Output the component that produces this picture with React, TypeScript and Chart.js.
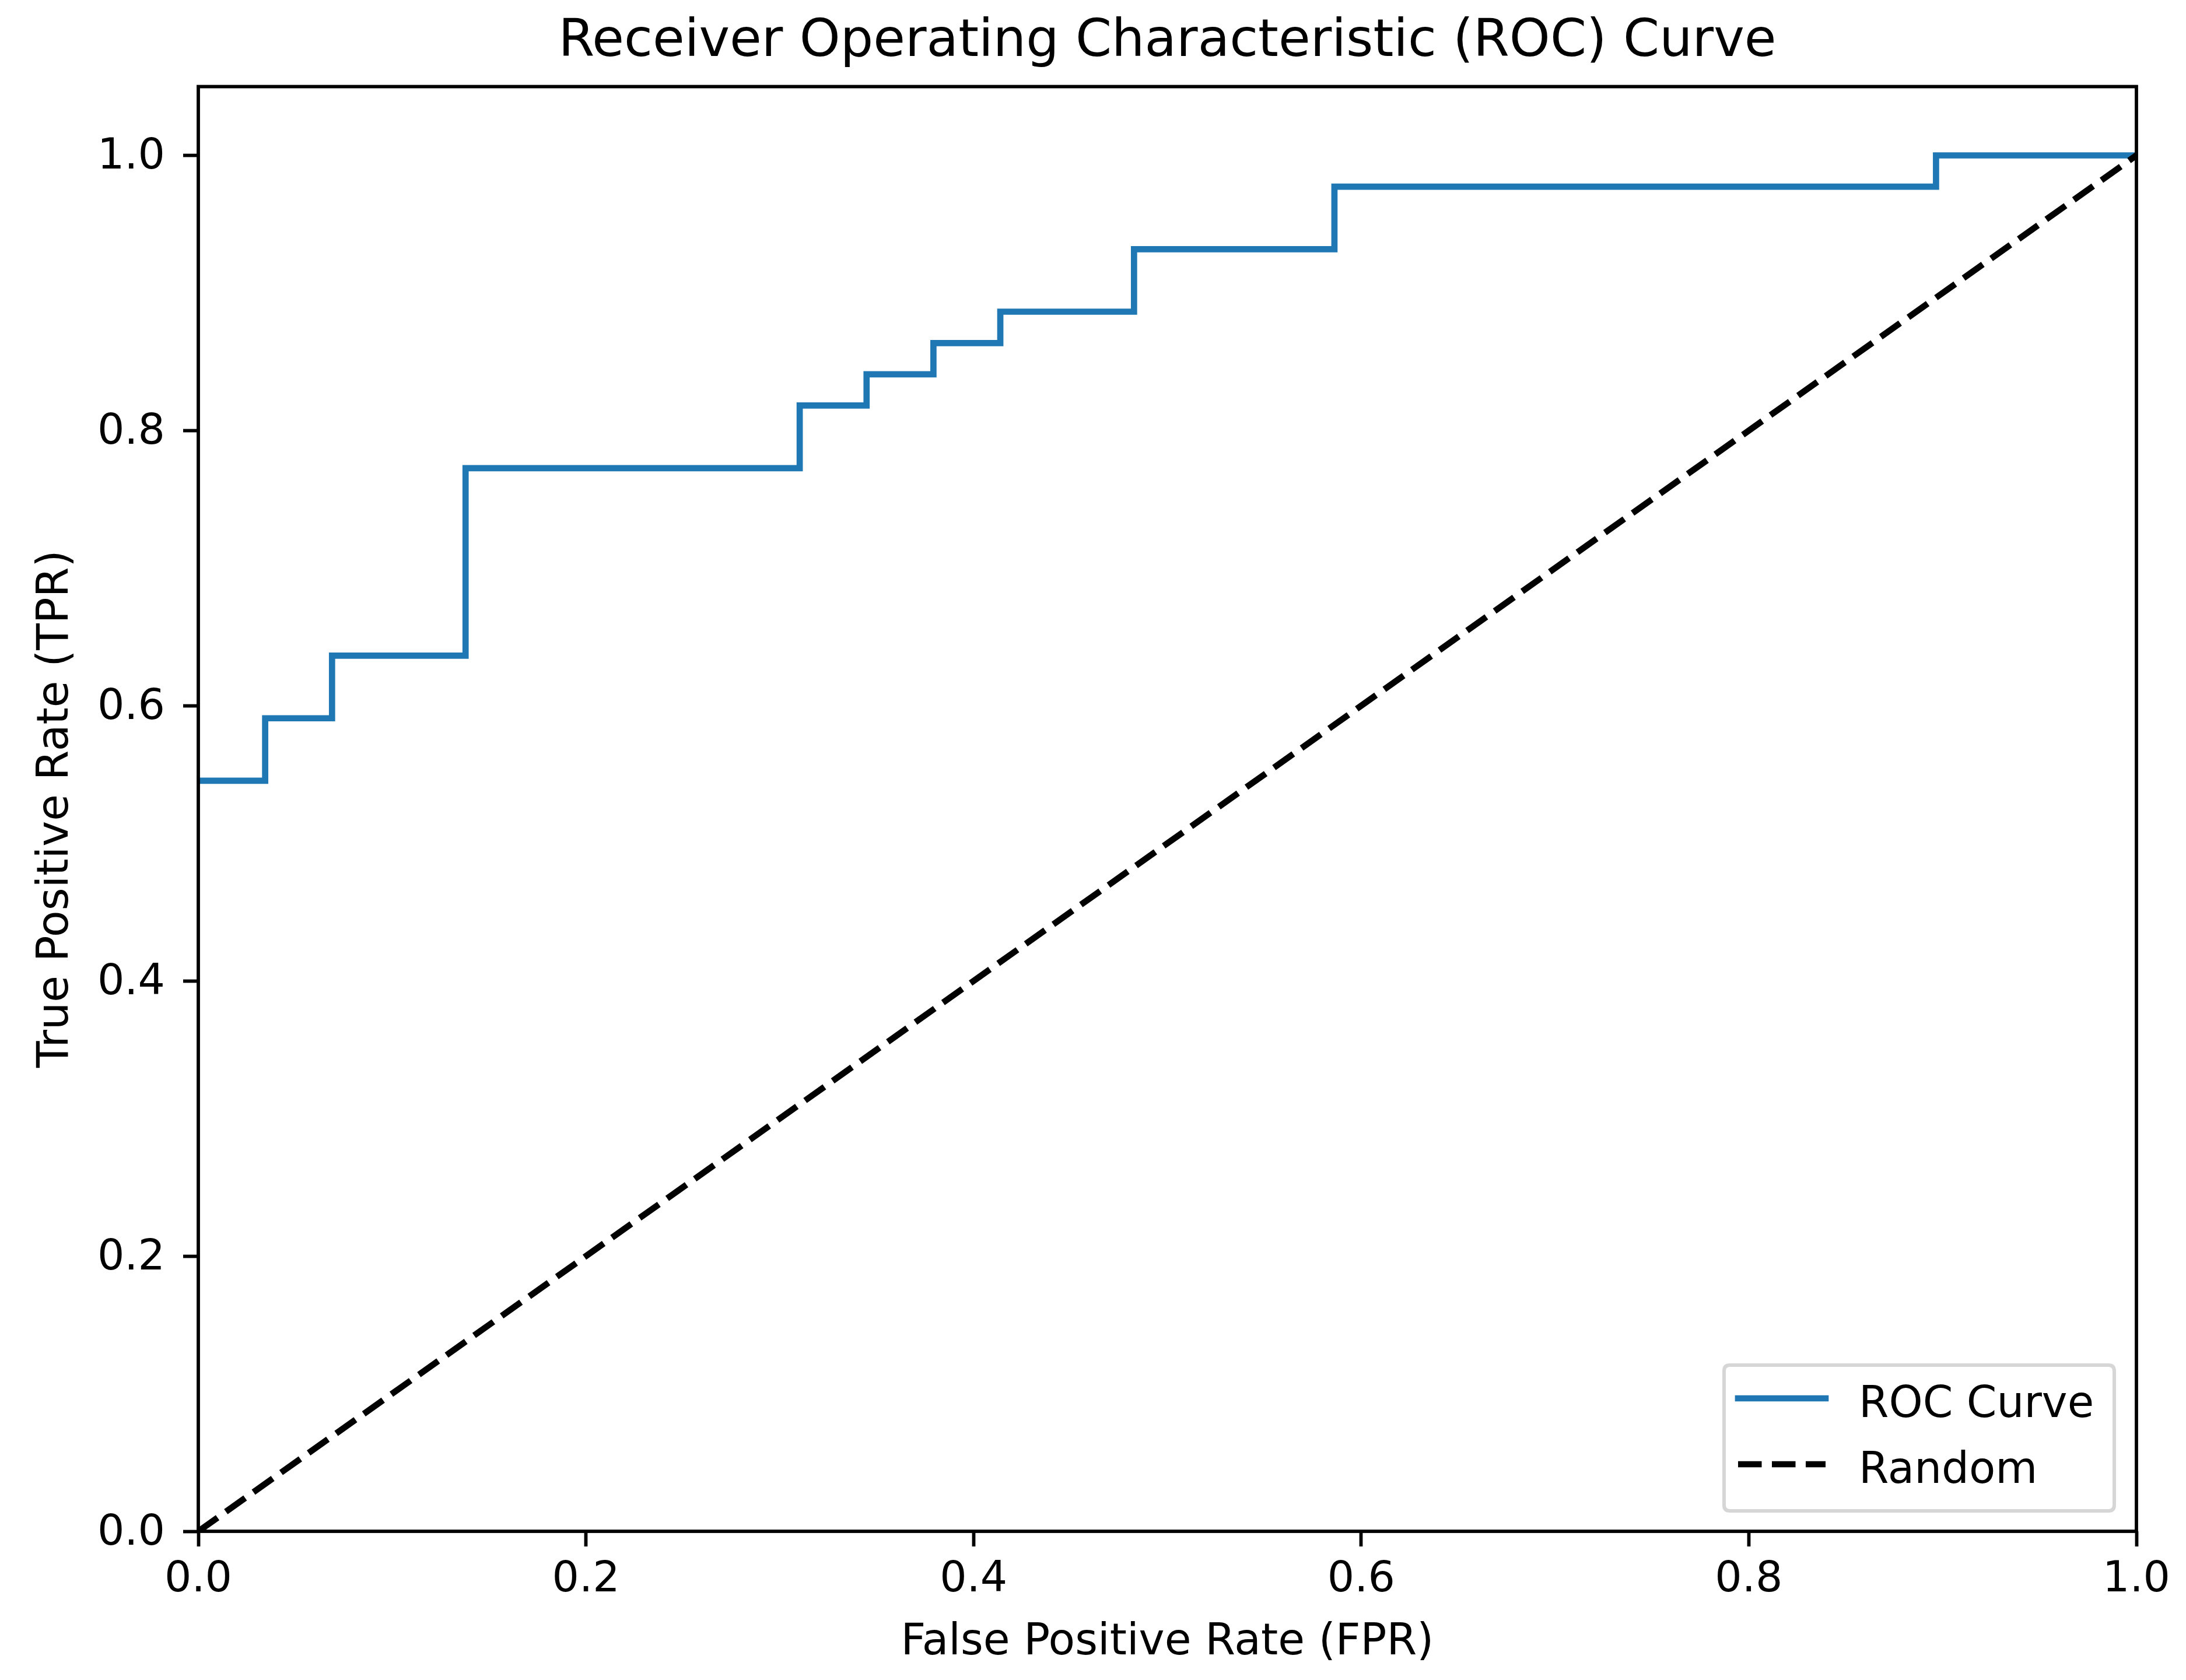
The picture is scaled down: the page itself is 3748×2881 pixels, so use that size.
import React, { useEffect, useRef } from 'react';
import { Chart, registerables } from 'chart.js';

Chart.register(...registerables);

// ---- data ----
const fpr = [0, 0.0345, 0.0345, 0.069, 0.069, 0.1379, 0.1379, 0.3103, 0.3103, 0.3448, 0.3448, 0.3793, 0.3793, 0.4138, 0.4138, 0.4828, 0.4828, 0.5862, 0.5862, 0.8966, 0.8966, 1.0];
const tpr = [0.5455, 0.5455, 0.5909, 0.5909, 0.6364, 0.6364, 0.7727, 0.7727, 0.8182, 0.8182, 0.8409, 0.8409, 0.8636, 0.8636, 0.8864, 0.8864, 0.9318, 0.9318, 0.9773, 0.9773, 1.0, 1.0];
const randomX = [0, 1];
const randomY = [0, 1];
const xTicks = [0, 0.2, 0.4, 0.6, 0.8, 1.0];
const yTicks = [0, 0.2, 0.4, 0.6, 0.8, 1.0];
const seriesLabels = ['ROC Curve', 'Random'];
const titleText = 'Receiver Operating Characteristic (ROC) Curve';
const xLabel = 'False Positive Rate (FPR)';
const yLabel = 'True Positive Rate (TPR)';

const W = 3748;
const H = 2881;
const FONT = 'DejaVu Sans';

const framePlugin = {
  id: 'mplFrame',
  afterDatasetsDraw(chart: any) {
    const { ctx, chartArea: a } = chart;
    ctx.save();
    // spines
    ctx.strokeStyle = '#000';
    ctx.lineWidth = 5.8;
    ctx.lineJoin = 'miter';
    ctx.setLineDash([]);
    ctx.strokeRect(a.left, a.top, a.right - a.left, a.bottom - a.top);

    // legend
    const bw = 669;
    const bh = 250;
    const x0 = a.right - 38 - bw;
    const y0 = a.bottom - 35 - bh;
    const r = 10;
    ctx.beginPath();
    ctx.moveTo(x0 + r, y0);
    ctx.lineTo(x0 + bw - r, y0);
    ctx.quadraticCurveTo(x0 + bw, y0, x0 + bw, y0 + r);
    ctx.lineTo(x0 + bw, y0 + bh - r);
    ctx.quadraticCurveTo(x0 + bw, y0 + bh, x0 + bw - r, y0 + bh);
    ctx.lineTo(x0 + r, y0 + bh);
    ctx.quadraticCurveTo(x0, y0 + bh, x0, y0 + bh - r);
    ctx.lineTo(x0, y0 + r);
    ctx.quadraticCurveTo(x0, y0, x0 + r, y0);
    ctx.closePath();
    ctx.fillStyle = 'rgba(255,255,255,0.8)';
    ctx.fill();
    ctx.strokeStyle = 'rgba(204,204,204,0.8)';
    ctx.lineWidth = 6;
    ctx.stroke();

    chart.data.datasets.forEach((ds: any, i: number) => {
      const ly = y0 + 57 + i * 113;
      ctx.beginPath();
      ctx.setLineDash(ds.borderDash || []);
      ctx.lineCap = ds.borderDash ? 'butt' : 'square';
      ctx.strokeStyle = ds.borderColor;
      ctx.lineWidth = ds.borderWidth;
      ctx.moveTo(x0 + 24, ly);
      ctx.lineTo(x0 + 174, ly);
      ctx.stroke();
      ctx.setLineDash([]);
      ctx.font = `74px "${FONT}"`;
      ctx.fillStyle = '#000';
      ctx.textAlign = 'left';
      ctx.textBaseline = 'alphabetic';
      ctx.fillText(ds.label, x0 + 231, ly + 32);
    });
    ctx.restore();
  },
};

export default function App() {
  const ref = useRef<HTMLCanvasElement | null>(null);

  useEffect(() => {
    if (!ref.current) return;
    const chart = new Chart(ref.current, {
      type: 'line',
      data: {
        datasets: [
          {
            label: seriesLabels[0],
            data: fpr.map((x, i) => ({ x, y: tpr[i] })),
            borderColor: '#1f77b4',
            backgroundColor: '#1f77b4',
            borderWidth: 10.7,
            pointRadius: 0,
            tension: 0,
            fill: false,
            borderJoinStyle: 'miter',
            borderCapStyle: 'square',
            clip: 0,
            order: 1,
          } as any,
          {
            label: seriesLabels[1],
            data: randomX.map((x, i) => ({ x, y: randomY[i] })),
            borderColor: '#000000',
            backgroundColor: '#000000',
            borderWidth: 10.7,
            borderDash: [40.5, 17.5],
            borderCapStyle: 'butt',
            pointRadius: 0,
            tension: 0,
            fill: false,
            clip: 0,
            order: 0,
          } as any,
        ],
      },
      options: {
        animation: false,
        responsive: false,
        maintainAspectRatio: false,
        devicePixelRatio: 1,
        layout: { padding: { left: 0, top: 0, right: 85, bottom: 0 } },
        plugins: {
          legend: { display: false },
          tooltip: { enabled: false },
          title: {
            display: true,
            fullSize: false,
            text: titleText,
            color: '#000',
            font: { family: FONT, size: 89, weight: 'normal', lineHeight: 1.2 },
            padding: { top: 19.8, bottom: 21.9 },
          },
        },
        scales: {
          x: {
            type: 'linear',
            min: 0,
            max: 1,
            afterBuildTicks: (s: any) => {
              s.ticks = xTicks.map((v) => ({ value: v }));
            },
            afterFit: (s: any) => {
              s.height = 255;
            },
            ticks: {
              color: '#000',
              font: { family: FONT, size: 73, lineHeight: 1.2 },
              padding: 14,
              maxRotation: 0,
              autoSkip: false,
              callback: (v: any) => Number(v).toFixed(1),
            },
            grid: {
              display: true,
              drawOnChartArea: false,
              drawTicks: true,
              tickLength: 26,
              tickWidth: 5.8,
              tickColor: '#000',
            },
            border: { display: false },
            title: {
              display: true,
              text: xLabel,
              color: '#000',
              font: { family: FONT, size: 74.5, lineHeight: 1.2 },
              padding: { top: 0, bottom: 19.1 },
            },
          },
          y: {
            type: 'linear',
            min: 0,
            max: 1.05,
            afterBuildTicks: (s: any) => {
              s.ticks = yTicks.map((v) => ({ value: v }));
            },
            afterFit: (s: any) => {
              s.width = 340;
            },
            ticks: {
              color: '#000',
              font: { family: FONT, size: 73, lineHeight: 1.2 },
              padding: 31,
              labelOffset: 4,
              autoSkip: false,
              callback: (v: any) => Number(v).toFixed(1),
            },
            grid: {
              display: true,
              drawOnChartArea: false,
              drawTicks: true,
              tickLength: 26,
              tickWidth: 5.8,
              tickColor: '#000',
            },
            border: { display: false },
            title: {
              display: true,
              text: yLabel,
              color: '#000',
              font: { family: FONT, size: 74.5, lineHeight: 1.2 },
              padding: { top: 51.5, bottom: 0 },
            },
          },
        },
      } as any,
      plugins: [framePlugin],
    });
    return () => chart.destroy();
  }, []);

  return (
    <div style={{ position: 'absolute', left: 0, top: 0, width: W, height: H, background: '#fff' }}>
      <canvas ref={ref} width={W} height={H} style={{ width: W, height: H, display: 'block' }} />
    </div>
  );
}
